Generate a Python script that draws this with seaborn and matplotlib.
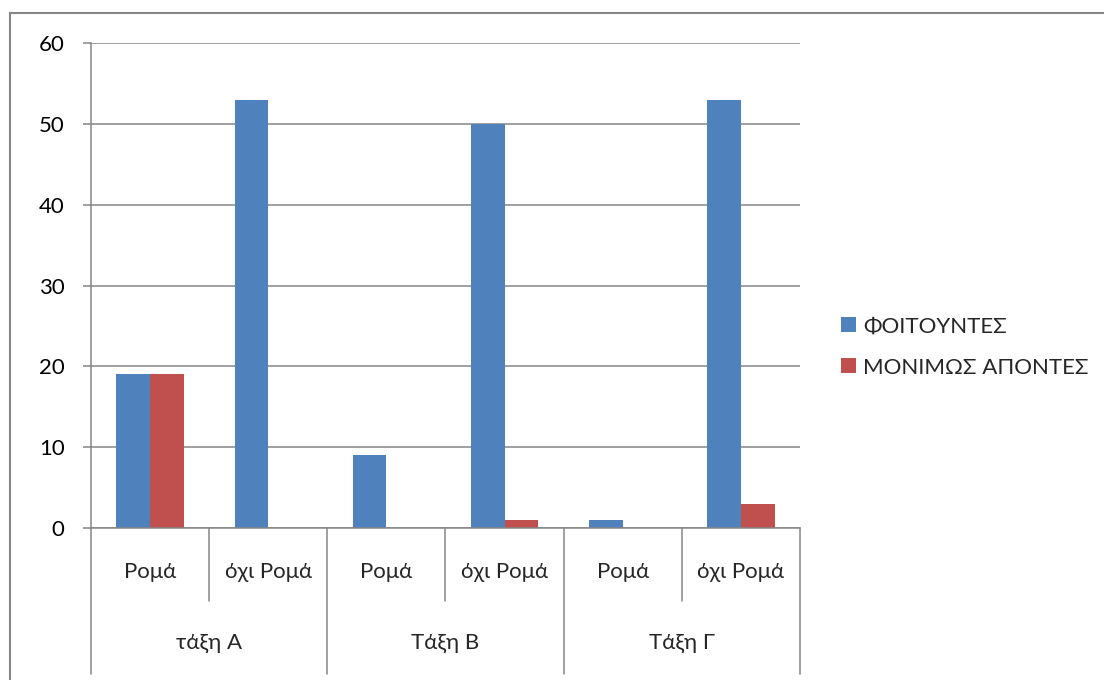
import matplotlib
matplotlib.use("Agg")
import matplotlib.pyplot as plt
import matplotlib.transforms as mtransforms
from matplotlib.patches import Rectangle, Patch
from matplotlib.lines import Line2D
import seaborn as sns
import pandas as pd

# ---- data ----
groups = ["τάξη Α", "Τάξη Β", "Τάξη Γ"]
subgroups = ["Ρομά", "όχι Ρομά"]
series_names = ["ΦΟΙΤΟΥΝΤΕΣ", "ΜΟΝΙΜΩΣ ΑΠΟΝΤΕΣ"]
foitountes = [19, 53, 9, 50, 1, 53]
apontes = [19, 0, 0, 1, 0, 3]
yticks = [0, 10, 20, 30, 40, 50, 60]

colors = ["#4F81BD", "#C0504D"]
grid_c = "#868686"
FS = 16

sns.set_theme(style="white")
plt.rcParams['font.family'] = ['Lato', 'Noto Sans', 'DejaVu Sans']

cats = [f"{g}|{s}" for g in groups for s in subgroups]
df = pd.DataFrame({
    "cat": cats * 2,
    "value": foitountes + apontes,
    "series": [series_names[0]] * 6 + [series_names[1]] * 6,
})

W, H = 1104, 680
fig = plt.figure(figsize=(W / 100, H / 100), dpi=100)
ax = fig.add_axes([91 / W, 1 - 528 / H, (800 - 91) / W, (528 - 43) / H])

sns.barplot(data=df, x="cat", y="value", hue="series", order=cats,
            hue_order=series_names, palette=colors, width=0.571,
            linewidth=0, saturation=1, ax=ax, legend=False)

ax.set_xlim(-0.5, 5.5)
ax.set_ylim(0, 60)
ax.set_yticks(yticks)
ax.yaxis.grid(True, color=grid_c, linewidth=1.1)
ax.set_axisbelow(True)
ax.set_xlabel("")
ax.set_ylabel("")
ax.set_xticks([])
for sp in ["top", "right"]:
    ax.spines[sp].set_visible(False)
for sp in ["left", "bottom"]:
    ax.spines[sp].set_color(grid_c)
    ax.spines[sp].set_linewidth(1.1)
ax.tick_params(axis="y", length=6, width=1.1, color=grid_c, left=True,
               labelsize=FS, pad=13, labelcolor="black")

# category axis (two levels)
tr = mtransforms.blended_transform_factory(ax.transData, fig.transFigure)
y0 = 1 - 528 / H
y_inner = 1 - 601 / H
y_outer = 1 - 674 / H
for i in range(7):
    xb = i - 0.5
    yb = y_outer if i % 2 == 0 else y_inner
    ax.add_line(Line2D([xb, xb], [y0, yb], transform=tr, color=grid_c,
                       linewidth=1.1, clip_on=False))
for i, c in enumerate(cats):
    ax.text(i, 1 - 572 / H, c.split("|")[1], transform=tr, ha="center",
            va="center", fontsize=FS)
for j, g in enumerate(groups):
    ax.text(2 * j + 0.5, 1 - 643 / H, g, transform=tr, ha="center",
            va="center", fontsize=FS)

# legend
handles = [Patch(facecolor=c, edgecolor="none") for c in colors]
fig.legend(handles, series_names, loc="center left",
           bbox_to_anchor=(841 / W, 1 - 347 / H), frameon=False,
           fontsize=FS, handlelength=0.68, handleheight=0.68,
           handletextpad=0.3, labelspacing=0.95, borderpad=0,
           borderaxespad=0)

# outer chart border
fig.add_artist(Rectangle((10 / W, -0.1), 1.2, 1 - 13 / H + 0.1,
                         transform=fig.transFigure, fill=False,
                         edgecolor=grid_c, linewidth=1.5))

fig.savefig("out.png", dpi=100)
